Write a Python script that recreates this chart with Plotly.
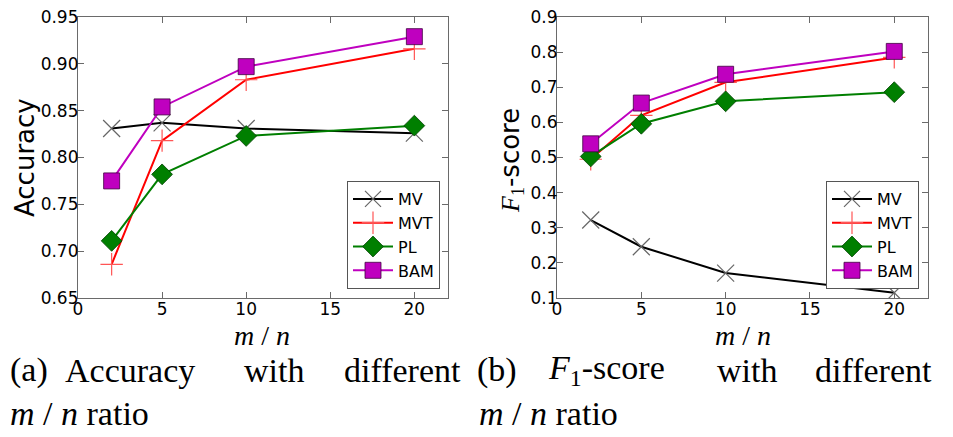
import plotly.graph_objects as go

ratios = [2, 5, 10, 20]
methods = ["MV", "MVT", "PL", "BAM"]

acc_mv = [0.831, 0.837, 0.831, 0.826]
acc_mvt = [0.686, 0.818, 0.883, 0.916]
acc_pl = [0.711, 0.782, 0.823, 0.834]
acc_bam = [0.775, 0.854, 0.897, 0.929]

f1_mv = [0.322, 0.246, 0.171, 0.115]
f1_mvt = [0.495, 0.620, 0.714, 0.785]
f1_pl = [0.503, 0.596, 0.660, 0.686]
f1_bam = [0.539, 0.655, 0.737, 0.802]

# the page body adds an 8px margin; lay out in window pixels and compensate
OFF = 8
W, H = 953 - OFF, 437 - OFF


def px(x):
    return (x - OFF) / W


def py(y):
    return 1 - (y - OFF) / H


styles = {
    "MV": dict(line=dict(color="black", width=2),
               marker=dict(symbol="x-thin-open", size=17, color="#666666", line=dict(color="#666666", width=1.2))),
    "MVT": dict(line=dict(color="#ff0000", width=2),
                marker=dict(symbol="cross-thin-open", size=16, color="#ff5555", line=dict(color="#ff5555", width=1.2))),
    "PL": dict(line=dict(color="#007f00", width=2),
               marker=dict(symbol="diamond", size=16, color="#007f00", line=dict(color="#004000", width=0.8))),
    "BAM": dict(line=dict(color="#bf00bf", width=2),
                marker=dict(symbol="square", size=16, color="#bf00bf", line=dict(color="#400040", width=0.8))),
}

fig = go.Figure()
acc = {"MV": acc_mv, "MVT": acc_mvt, "PL": acc_pl, "BAM": acc_bam}
f1 = {"MV": f1_mv, "MVT": f1_mvt, "PL": f1_pl, "BAM": f1_bam}
for m in methods:
    fig.add_trace(go.Scatter(x=ratios, y=acc[m], name=m, mode="lines+markers",
                             xaxis="x", yaxis="y", legend="legend", **styles[m]))
for m in methods:
    fig.add_trace(go.Scatter(x=ratios, y=f1[m], name=m, mode="lines+markers",
                             xaxis="x2", yaxis="y2", legend="legend2", **styles[m]))

tickfont = dict(family="DejaVu Sans", size=17, color="black")
axis_common = dict(showgrid=False, zeroline=False, showline=True, linecolor="#6a6a6a", linewidth=1.2,
                   mirror="ticks", ticks="inside", ticklen=6, tickcolor="#6a6a6a",
                   tickfont=tickfont, automargin=False, ticklabelstandoff=-5, ticklabeloverflow="allow")

ydom = [py(298), py(17)]
legend_common = dict(xanchor="right", yanchor="bottom", bgcolor="white", bordercolor="#555555", borderwidth=1,
                     font=dict(family="DejaVu Sans", size=16, color="black"), itemwidth=40, tracegroupgap=0)
fig.update_layout(
    width=W, height=H,
    margin=dict(l=0, r=0, t=0, b=0),
    paper_bgcolor="white", plot_bgcolor="white",
    xaxis=dict(domain=[px(78), px(448)], range=[0, 22], tickvals=[0, 5, 10, 15, 20], anchor="y", **axis_common),
    yaxis=dict(domain=ydom, range=[0.65, 0.95], dtick=0.05, tick0=0.65, tickformat=".2f", anchor="x", **axis_common),
    xaxis2=dict(domain=[px(557), px(928)], range=[0, 22], tickvals=[0, 5, 10, 15, 20], anchor="y2", **axis_common),
    yaxis2=dict(domain=ydom, range=[0.1, 0.9], dtick=0.1, tick0=0.1, tickformat=".1f", anchor="x2", **axis_common),
    legend=dict(x=px(440), y=py(289), **legend_common),
    legend2=dict(x=px(919), y=py(289), **legend_common),
    showlegend=True,
)

serif = dict(family="Liberation Serif", size=34, color="black")
ann = []


def add(text, x, y, font, xanchor="left", textangle=0):
    ann.append(dict(text=text, x=px(x), y=py(y), xref="paper", yref="paper",
                    xanchor=xanchor, yanchor="middle", showarrow=False, font=font, textangle=textangle))


# axis titles
add("Accuracy", 25, 158, dict(family="DejaVu Sans", size=26, color="black"), xanchor="center", textangle=-90)
add("<span style='font-family:Liberation Serif'><i>F</i><sub>1</sub></span>-score", 511, 160,
    dict(family="DejaVu Sans", size=26, color="black"), xanchor="center", textangle=-90)
add("<i>m</i> / <i>n</i>", 262, 335, dict(family="Liberation Serif", size=28, color="black"), xanchor="center")
add("<i>m</i> / <i>n</i>", 743, 335, dict(family="Liberation Serif", size=28, color="black"), xanchor="center")

# captions (justified words)
for text, x in [("(a)", 8), ("Accuracy", 63), ("with", 242), ("different", 342),
                ("(b)", 475), ("<i>F</i><sub>1</sub>-score", 546), ("with", 715), ("different", 813)]:
    add(text, x, 370, serif)
add("<i>m</i> / <i>n</i> ratio", 8, 413, serif)
add("<i>m</i> / <i>n</i> ratio", 477, 413, serif)

fig.update_layout(annotations=ann)
fig.write_html("out.html")
